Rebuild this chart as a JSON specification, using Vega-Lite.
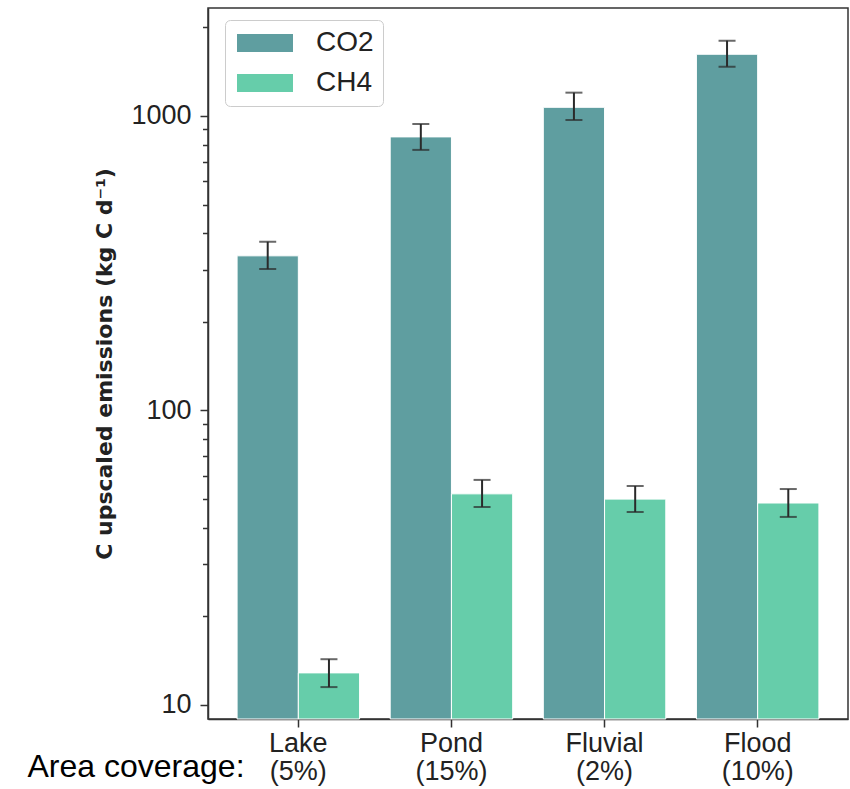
{
  "$schema": "https://vega.github.io/schema/vega-lite/v6.json",
  "width": 640,
  "height": 711,
  "autosize": {"type": "none"},
  "padding": {"left": 208, "top": 8, "right": 2, "bottom": 70},
  "background": "white",
  "config": {
    "view": {"stroke": "#333333", "strokeWidth": 1.5},
    "axis": {"grid": false, "domainColor": "#333333", "domainWidth": 1.5, "tickColor": "#333333", "tickWidth": 1.5, "labelColor": "#222222", "labelFont": "Liberation Sans", "labelFontSize": 27}
  },
  "data": {
    "values": [
      {"area": "Lake|(5%)", "gas": "CO2", "value": 335, "lo": 302, "hi": 374},
      {"area": "Lake|(5%)", "gas": "CH4", "value": 12.85, "lo": 11.5, "hi": 14.3},
      {"area": "Pond|(15%)", "gas": "CO2", "value": 849, "lo": 767, "hi": 939},
      {"area": "Pond|(15%)", "gas": "CH4", "value": 52.1, "lo": 47, "hi": 58.1},
      {"area": "Fluvial|(2%)", "gas": "CO2", "value": 1070, "lo": 969, "hi": 1200},
      {"area": "Fluvial|(2%)", "gas": "CH4", "value": 50, "lo": 45.2, "hi": 55.4},
      {"area": "Flood|(10%)", "gas": "CO2", "value": 1620, "lo": 1470, "hi": 1802},
      {"area": "Flood|(10%)", "gas": "CH4", "value": 48.5, "lo": 43.5, "hi": 54.1}
    ]
  },
  "encoding": {
    "x": {
      "field": "area", "type": "nominal", "sort": null,
      "scale": {"paddingInner": 0.2, "paddingOuter": 0.19},
      "axis": {
        "title": "Area coverage:",
        "titleFont": "Liberation Sans", "titleFontSize": 32, "titleFontWeight": "normal", "titleColor": "#000000",
        "titleAnchor": "start", "titleAlign": "left", "titleBaseline": "alphabetic",
        "titleX": -181, "titleY": 57,
        "labelAngle": 0, "labelExpr": "split(datum.label, '|')", "labelLineHeight": 28,
        "labelPadding": 3, "tickSize": 8, "labelFontSize": 27
      }
    },
    "xOffset": {"field": "gas", "type": "nominal", "sort": ["CO2", "CH4"], "scale": {"paddingInner": 0, "paddingOuter": 0}}
  },
  "layer": [
    {
      "mark": {"type": "bar", "stroke": "white", "strokeWidth": 1},
      "encoding": {
        "y": {
          "field": "value", "type": "quantitative",
          "scale": {"type": "log", "domain": [8.96, 2326], "nice": false},
          "axis": {
            "title": "C upscaled emissions (kg C d⁻¹)",
            "titleFont": "DejaVu Sans", "titleFontWeight": "bold", "titleFontSize": 22, "titleColor": "#222222",
            "titlePadding": 14,
            "values": [10, 20, 30, 40, 50, 60, 70, 80, 90, 100, 200, 300, 400, 500, 600, 700, 800, 900, 1000, 2000],
            "format": "d",
            "labelExpr": "datum.value == 10 || datum.value == 100 || datum.value == 1000 ? datum.label : ''",
            "labelOverlap": false, "labelBound": false, "labelPadding": 9,
            "tickSize": {"condition": {"test": "datum.value == 10 || datum.value == 100 || datum.value == 1000", "value": 8}, "value": 5.5}
          }
        },
        "y2": {"datum": 8.96},
        "color": {
          "field": "gas", "type": "nominal",
          "scale": {"domain": ["CO2", "CH4"], "range": ["#5f9ea0", "#66cdaa"]},
          "legend": {
            "title": null, "orient": "none", "legendX": 17, "legendY": 12,
            "symbolType": "M-2.545,-0.818H2.545V0.818H-2.545Z", "symbolSize": 484, "symbolStrokeWidth": 0, "symbolOffset": 17,
            "labelFont": "Liberation Sans", "labelFontSize": 28, "labelColor": "#222222", "labelOffset": 37,
            "rowPadding": 12, "padding": 9, "strokeColor": "#cccccc", "cornerRadius": 5, "fillColor": "white"
          }
        }
      }
    },
    {
      "mark": {"type": "rule", "color": "#2a2a2a", "strokeWidth": 2},
      "encoding": {"y": {"field": "lo", "type": "quantitative"}, "y2": {"field": "hi"}}
    },
    {
      "mark": {"type": "tick", "color": "#2a2a2a", "thickness": 2, "size": 17},
      "encoding": {"y": {"field": "lo", "type": "quantitative"}}
    },
    {
      "mark": {"type": "tick", "color": "#2a2a2a", "thickness": 2, "size": 17},
      "encoding": {"y": {"field": "hi", "type": "quantitative"}}
    }
  ]
}
